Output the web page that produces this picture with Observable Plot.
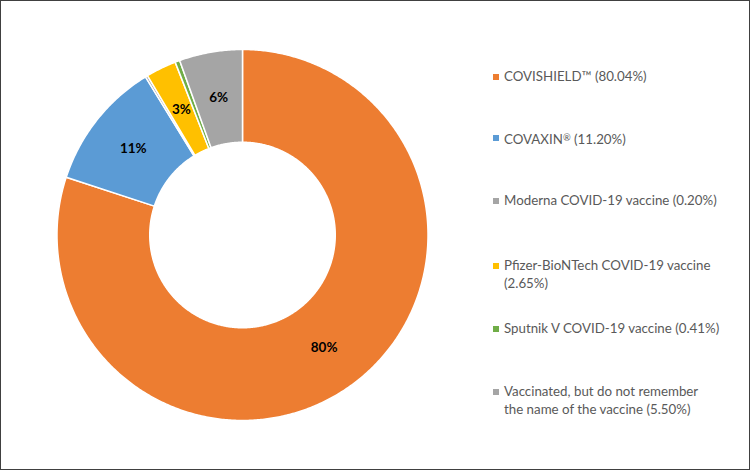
<!DOCTYPE html>
<html><head><meta charset="utf-8">
<script src="https://cdn.jsdelivr.net/npm/d3@7"></script>
<script src="https://cdn.jsdelivr.net/npm/@observablehq/plot@0.6"></script>
<style>
html,body{margin:0;padding:0;background:#fff;}
#chart{position:relative;width:750px;height:470px;overflow:hidden;background:#fff;}
#chart svg{position:absolute;left:0;top:0;}
#frame{position:absolute;left:0;top:0;width:750px;height:470px;box-sizing:border-box;border:1.5px solid #404040;pointer-events:none;}
#legend{position:absolute;left:0;top:0;font-family:Lato,"Open Sans",sans-serif;font-size:13.3px;color:#595959;}
.item{position:absolute;white-space:pre;line-height:17.7px;}
.item .reg{font-size:0.7em;vertical-align:0.35em;}
.sw{position:absolute;width:6px;height:6px;}
</style></head><body>
<div id="chart"><div id="legend"></div><div id="frame"></div></div>
<script>
const vaccines = ["COVISHIELD™", "COVAXIN®", "Moderna COVID-19 vaccine", "Pfizer-BioNTech COVID-19 vaccine", "Sputnik V COVID-19 vaccine", "Vaccinated, but do not remember the name of the vaccine"];
const shares = [80.04, 11.20, 0.20, 2.65, 0.41, 5.50];
const colors = ["#ED7D31", "#5B9BD5", "#A5A5A5", "#FFC000", "#70AD47", "#A5A5A5"];
const legendLabels = ["COVISHIELD™ (80.04%)", "COVAXIN® (11.20%)", "Moderna COVID-19 vaccine (0.20%)", "Pfizer-BioNTech COVID-19 vaccine\n(2.65%)", "Sputnik V COVID-19 vaccine (0.41%)", "Vaccinated, but do not remember\nthe name of the vaccine (5.50%)"];
const legendY = [77, 138, 201, 266, 329, 392];

const data = vaccines.map((name, i) => ({name, share: shares[i], color: colors[i]}));
const R = 1, r = 0.5;
const arcs = d3.pie().sort(null).value(d => d.share).startAngle(0).endAngle(2 * Math.PI)(data);
const pt = (a, rad) => [rad * Math.sin(a), -rad * Math.cos(a)];
function ring(a0, a1) {
  const n = Math.max(2, Math.ceil((a1 - a0) / (Math.PI / 360)));
  const outer = d3.range(n + 1).map(k => pt(a0 + (a1 - a0) * k / n, R));
  const inner = d3.range(n + 1).map(k => pt(a1 - (a1 - a0) * k / n, r));
  const c = outer.concat(inner);
  c.push(c[0]);
  return c;
}
const slices = arcs.map(a => ({type: "Feature", properties: a.data, geometry: {type: "Polygon", coordinates: [ring(a.startAngle, a.endAngle)]}}));
const outline = {type: "Polygon", coordinates: [d3.range(721).map(k => pt(k * Math.PI / 360, R))]};
const labels = arcs.filter(a => a.data.share >= 1).map(a => {
  const m = (a.startAngle + a.endAngle) / 2;
  const [x, y] = pt(m, (R + r) / 2);
  return {x, y, label: Math.round(a.data.share) + "%"};
});

const chart = Plot.plot({
  width: 750, height: 470,
  marginLeft: 56.5, marginRight: 322.5, marginTop: 49, marginBottom: 50,
  projection: {type: "identity", domain: outline},
  color: {domain: vaccines, range: colors},
  style: {fontFamily: "Lato, 'Open Sans', sans-serif", background: "transparent", overflow: "visible"},
  marks: [
    Plot.geo(slices, {fill: d => d.properties.name, stroke: "white", strokeWidth: 1.5}),
    Plot.text(labels, {x: "x", y: "y", text: "label", fill: "black", fontWeight: "bold", fontSize: 13.5})
  ]
});
document.getElementById("chart").prepend(chart);

const legend = document.getElementById("legend");
legendLabels.forEach((t, i) => {
  const sw = document.createElement("div");
  sw.className = "sw";
  sw.style.left = "493px";
  sw.style.top = (legendY[i] - 3) + "px";
  sw.style.background = colors[i];
  legend.appendChild(sw);
  const it = document.createElement("div");
  it.className = "item";
  it.style.left = "504px";
  it.style.top = (legendY[i] - 8.85) + "px";
  t.split("®").forEach((part, j) => {
    if (j > 0) {
      const s = document.createElement("span");
      s.className = "reg";
      s.textContent = "®";
      it.appendChild(s);
    }
    it.appendChild(document.createTextNode(part));
  });
  legend.appendChild(it);
});
</script>
</body></html>
